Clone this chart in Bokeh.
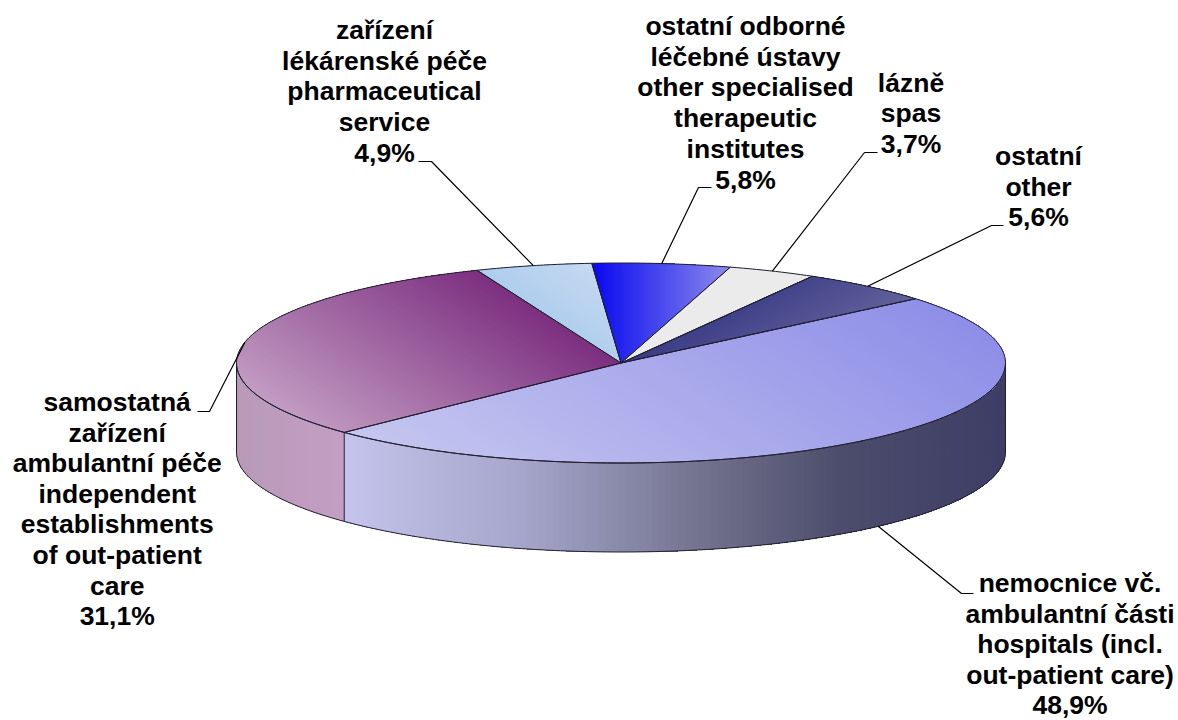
import math
from bokeh.plotting import figure
from bokeh.models import ColumnDataSource, Range1d
from bokeh.core.properties import value
from bokeh.embed import file_html
from bokeh.resources import INLINE

values = [48.9, 31.1, 4.9, 5.8, 3.7, 5.6]
value_labels = ["48,9%", "31,1%", "4,9%", "5,8%", "3,7%", "5,6%"]
names = [
    ["nemocnice vč.", "ambulantní části", "hospitals (incl.", "out-patient care)"],
    ["samostatná", "zařízení", "ambulantní péče", "independent", "establishments", "of out-patient", "care"],
    ["zařízení", "lékárenské péče", "pharmaceutical", "service"],
    ["ostatní odborné", "léčebné ústavy", "other specialised", "therapeutic", "institutes"],
    ["lázně", "spas"],
    ["ostatní", "other"],
]
# top-face gradient: direction, colour at start, colour at end
top_dir = [(0.55, -0.83), (0.55, -0.83), (0.6, -0.8), (1, 0), (1, 0), (0.5, 0.85)]
top_from = ["#c6c6f0", "#c29cc2", "#aecdee", "#0808f0", "#ebebeb", "#3c3c86"]
top_to = ["#8e8ee8", "#7c2f80", "#c6d9f0", "#8c8cec", "#ebebeb", "#62629c"]
# side-face colour stops (page x, colour)
side_stops = {
    0: [(343, "#c4c4ec"), (520, "#a6a6cc"), (700, "#73738f"), (840, "#4c4c6c"), (1005, "#3e3e66")],
    1: [(236, "#b89ab8"), (300, "#c09cc0"), (343, "#c29ec2")],
}
# label layout: centre x, first line y, line spacing, leader elbow, leader end
label_cx = [1069.5, 116.7, 384, 745, 910.5, 1038]
label_y0 = [582.5, 401.5, 29.3, 25.5, 82, 155.5]
label_dy = [30.5, 30.6, 30.8, 30.7, 30.7, 30.7]
elbows = [[(973, 593), (961, 593)], [(197, 411), (209, 411)], [(418, 161), (431, 161)],
          [(711, 187), (698, 187)], [(877, 152), (864, 152)], [(1003, 225), (991, 225)]]

CX, CY, RX, RY, DEPTH, START = 620.5, 362.5, 384.5, 100.0, 89.0, 40.0


def rim(t, dy=0.0):
    a = math.radians(t)
    return CX + RX * math.cos(a), CY - RY * math.sin(a) + dy


def hex2rgb(h):
    return tuple(int(h[i:i + 2], 16) for i in (1, 3, 5))


def mix(a, b, f):
    ca, cb = hex2rgb(a), hex2rgb(b)
    return "#%02x%02x%02x" % tuple(round(x + (y - x) * f) for x, y in zip(ca, cb))


def clip(poly, d, lim):
    out = []
    for i in range(len(poly)):
        p, q = poly[i], poly[(i + 1) % len(poly)]
        sp, sq = p[0] * d[0] + p[1] * d[1] - lim, q[0] * d[0] + q[1] * d[1] - lim
        if sp >= 0:
            out.append(p)
        if (sp >= 0) != (sq >= 0):
            f = sp / (sp - sq)
            out.append((p[0] + (q[0] - p[0]) * f, p[1] + (q[1] - p[1]) * f))
    return out


total = sum(values)
edges = [START]
for v in values:
    edges.append(edges[-1] - v / total * 360)

xs, ys, cols = [], [], []
ox, oy = [], []

# side faces, front half only: each step paints everything still to come,
# so no background shows through between neighbouring steps
for i, stops in side_stops.items():
    a0, a1 = edges[i], edges[i + 1]
    lo = max(a1, -180)
    t_hi = min(a0, 0)
    n = int(abs(t_hi - lo) / 1.0) + 1
    ts = [t_hi - (t_hi - lo) * k / n for k in range(n + 1)]
    rims = [rim(t) for t in ts]
    for k in range(n):
        xm = (rims[k][0] + rims[k + 1][0]) / 2
        col = stops[-1][1]
        if xm <= stops[0][0]:
            col = stops[0][1]
        for (p0, c0), (p1, c1) in zip(stops, stops[1:]):
            if p0 <= xm <= p1:
                col = mix(c0, c1, (xm - p0) / (p1 - p0))
        rest = rims[k:]
        xs.append([q[0] for q in rest] + [q[0] for q in reversed(rest)])
        ys.append([q[1] for q in rest] + [q[1] + DEPTH for q in reversed(rest)])
        cols.append(col)

# top faces with banded linear gradients, painted cumulatively
BANDS = 70
for i in range(len(values)):
    a0, a1 = edges[i], edges[i + 1]
    n = max(4, int(abs(a0 - a1)))
    poly = [(CX, CY)] + [rim(a0 + (a1 - a0) * k / n) for k in range(n + 1)]
    d = top_dir[i]
    proj = [p[0] * d[0] + p[1] * d[1] for p in poly]
    s0, s1 = min(proj), max(proj)
    for b in range(BANDS):
        c = clip(poly, d, s0 + (s1 - s0) * b / BANDS)
        if len(c) >= 3:
            xs.append([q[0] for q in c])
            ys.append([q[1] for q in c])
            cols.append(mix(top_from[i], top_to[i], (b + 0.5) / BANDS))
    ox.append([q[0] for q in poly] + [poly[0][0]])
    oy.append([q[1] for q in poly] + [poly[0][1]])

# outline of the side
front = [rim(-k) for k in range(0, 181)]
ox.append([q[0] for q in front] + [q[0] for q in reversed(front)] + [front[0][0]])
oy.append([q[1] + DEPTH for q in front] + [q[1] for q in reversed(front)] + [front[0][1] + DEPTH])
bx, by = rim(edges[1])
ox.append([bx, bx])
oy.append([by, by + DEPTH])

# leaders
lx, ly = [], []
for i in range(len(values)):
    mid = (edges[i] + edges[i + 1]) / 2
    sx, sy = rim(mid, DEPTH if i == 0 else 0)
    pts = elbows[i] + [(sx, sy)]
    lx.append([q[0] for q in pts])
    ly.append([q[1] for q in pts])

# text
tx, ty, tt = [], [], []
for i in range(len(values)):
    lines = names[i] + [value_labels[i]]
    for k, s in enumerate(lines):
        tx.append(label_cx[i])
        ty.append(label_y0[i] + label_dy[i] * k)
        tt.append(s)

W, H = 1178, 720
p = figure(width=W, height=H, output_backend="svg", toolbar_location=None,
           x_range=Range1d(0, W), y_range=Range1d(H, 0),
           min_border=0, outline_line_color=None)
p.axis.visible = False
p.grid.visible = False
p.background_fill_color = "white"
p.border_fill_color = "white"

p.patches(xs="xs", ys="ys", fill_color="c", line_color=None,
          source=ColumnDataSource(dict(xs=xs, ys=ys, c=cols)))
p.multi_line(xs=ox, ys=oy, line_color="#202030", line_width=1)
p.multi_line(xs=lx, ys=ly, line_color="black", line_width=1.2)
p.text(x=tx, y=ty, text=tt, text_font=value("Liberation Sans"), text_font_style="bold",
       text_font_size="26.5px", text_align="center", text_baseline="middle", text_color="black")

open("out.html", "w").write(file_html(p, INLINE))
